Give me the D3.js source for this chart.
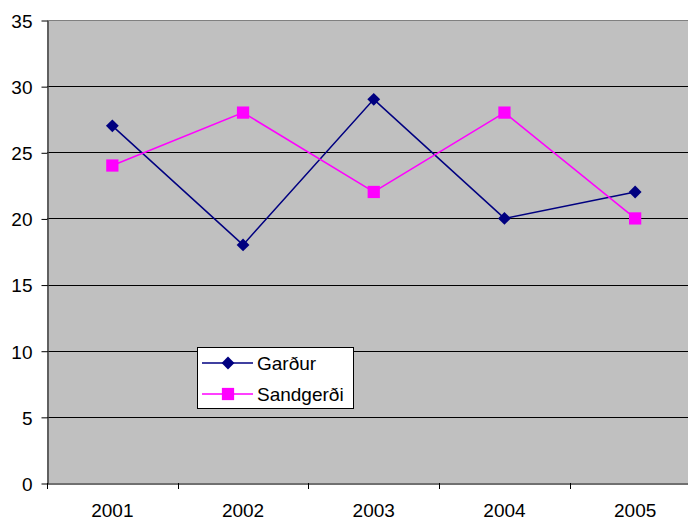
<!DOCTYPE html>
<html lang="en">
<head>
<meta charset="utf-8">
<script src="https://d3js.org/d3.v7.min.js"></script>
<style>
  body { margin: 0; background: #fff; }
  svg { font-family: "Liberation Sans", Arial, sans-serif; font-size: 19px; }
</style>
</head>
<body>
<div id="chart"></div>
<script>
// data
var years = ["2001", "2002", "2003", "2004", "2005"];
var gardur = [27, 18, 29, 20, 22];
var sandgerdi = [24, 28, 22, 28, 20];
var yTicks = [0, 5, 10, 15, 20, 25, 30, 35];

var W = 688, H = 521;
var plotLeft = 47, plotTop = 20, plotBottom = 483, plotRight = 700.5;

var svg = d3.select("#chart").append("svg")
    .attr("width", W).attr("height", H);

var x = d3.scaleBand().domain(years).range([plotLeft, plotRight]);
var y = d3.scaleLinear().domain([0, 35]).range([plotBottom, plotTop]);

// plot area
svg.append("rect")
    .attr("x", plotLeft).attr("y", plotTop)
    .attr("width", plotRight - plotLeft).attr("height", plotBottom - plotTop)
    .attr("fill", "#c0c0c0");

// gridlines
svg.append("g").selectAll("line")
  .data(yTicks.filter(function(d){ return d > 0 && d < 35; }))
  .enter().append("line")
    .attr("x1", plotLeft).attr("x2", plotRight)
    .attr("y1", function(d){ return Math.round(y(d)) + 0.5; })
    .attr("y2", function(d){ return Math.round(y(d)) + 0.5; })
    .attr("stroke", "#000").attr("stroke-width", 1);

// top border
svg.append("line")
    .attr("x1", plotLeft).attr("x2", plotRight)
    .attr("y1", plotTop + 0.5).attr("y2", plotTop + 0.5)
    .attr("stroke", "#808080");

// y axis
var yAxis = svg.append("g")
    .attr("transform", "translate(" + (plotLeft + 0.5) + ",0.5)")
    .call(d3.axisLeft(y).tickValues(yTicks).tickSize(6).tickPadding(9).tickSizeOuter(0));
yAxis.select(".domain").attr("stroke", "#404040").attr("stroke-width", 1.5);
yAxis.selectAll(".tick line").attr("stroke", "#000");
yAxis.selectAll("text").attr("fill", "#000")
    .style("font-size", "19px").style("font-family", "Liberation Sans, Arial, sans-serif")
    .attr("dy", "0.36em");

// x axis
var xAxis = svg.append("g")
    .attr("transform", "translate(0," + (plotBottom + 0.5) + ")")
    .call(d3.axisBottom(x).tickSize(0).tickPadding(20).tickSizeOuter(0));
xAxis.select(".domain").attr("stroke", "#404040").attr("stroke-width", 1.5);
xAxis.selectAll("text").attr("fill", "#000")
    .style("font-size", "19px").style("font-family", "Liberation Sans, Arial, sans-serif");
// category separator ticks
svg.append("g").selectAll("line")
  .data(years.slice(1))
  .enter().append("line")
    .attr("x1", function(d){ return Math.round(x(d)) + 0.5; })
    .attr("x2", function(d){ return Math.round(x(d)) + 0.5; })
    .attr("y1", plotBottom).attr("y2", plotBottom + 6)
    .attr("stroke", "#000");
svg.append("line")
    .attr("x1", plotLeft + 0.5).attr("x2", plotLeft + 0.5)
    .attr("y1", plotBottom).attr("y2", plotBottom + 6)
    .attr("stroke", "#000");

var cx = function(d, i){ return x(years[i]) + x.bandwidth() / 2; };
var line = d3.line().x(function(d, i){ return cx(d, i); }).y(function(d){ return y(d); });

var series = [
  { name: "Garður", values: gardur, color: "#000080", symbol: d3.symbolDiamond2, size: 105 },
  { name: "Sandgerði", values: sandgerdi, color: "#ff00ff", symbol: d3.symbolSquare, size: 150 }
];

series.forEach(function(s){
  svg.append("path")
      .datum(s.values)
      .attr("d", line)
      .attr("fill", "none")
      .attr("stroke", s.color)
      .attr("stroke-width", 1.5);
  svg.append("g").selectAll("path")
    .data(s.values)
    .enter().append("path")
      .attr("d", d3.symbol().type(s.symbol).size(s.size))
      .attr("transform", function(d, i){ return "translate(" + cx(d, i) + "," + y(d) + ")"; })
      .attr("fill", s.color);
});

// legend
var lg = svg.append("g");
lg.append("rect")
    .attr("x", 197.5).attr("y", 347.5)
    .attr("width", 156).attr("height", 61)
    .attr("fill", "#fff").attr("stroke", "#000");
series.forEach(function(s, i){
  var ly = 363 + i * 31;
  lg.append("line")
      .attr("x1", 202).attr("x2", 253)
      .attr("y1", ly).attr("y2", ly)
      .attr("stroke", s.color).attr("stroke-width", 1.5);
  lg.append("path")
      .attr("d", d3.symbol().type(s.symbol).size(s.size))
      .attr("transform", "translate(228," + ly + ")")
      .attr("fill", s.color);
  lg.append("text")
      .attr("x", 257).attr("y", ly)
      .attr("dy", "0.36em")
      .text(s.name);
});
</script>
</body>
</html>
